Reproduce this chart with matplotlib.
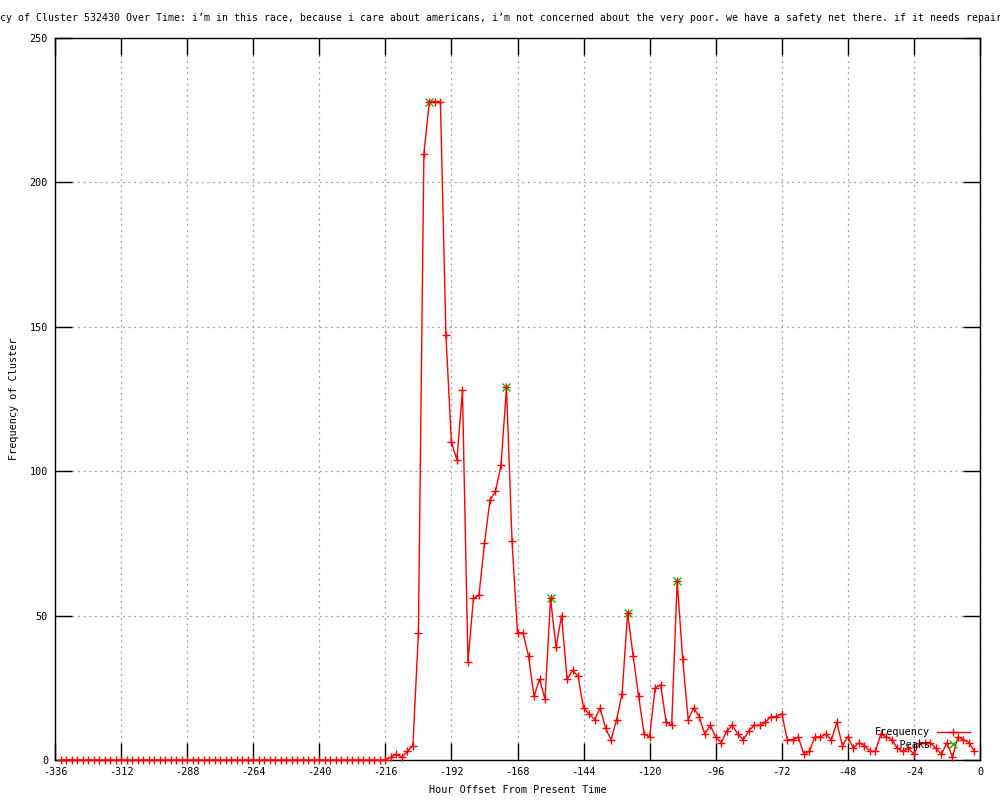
import numpy as np
import matplotlib
matplotlib.use("Agg")
import matplotlib.pyplot as plt

plt.rcParams['font.family'] = ['DejaVu Sans Mono']
plt.rcParams['axes.unicode_minus'] = False

# hours before present, one sample every 2 hours
hours = np.arange(-334, 0, 2)

# frequency per sample
zeros_before = [0] * 60   # -334 .. -216
freq_rest = [
    1, 2, 1, 3, 5, 44, 210, 228, 228, 228,          # -214 .. -196
    147, 110, 104, 128, 34, 56, 57, 75, 90, 93,     # -194 .. -176
    102, 129, 76, 44, 44, 36, 22, 28, 21, 56,       # -174 .. -156
    39, 50, 28, 31, 29, 18, 16, 14, 18, 11,         # -154 .. -136
    7, 14, 23, 51, 36, 22, 9, 8, 25, 26,            # -134 .. -116
    13, 12, 62, 35, 14, 18, 15, 9, 12, 8,           # -114 .. -96
    6, 10, 12, 9, 7, 10, 12, 12, 13, 15,            # -94 .. -76
    15, 16, 7, 7, 8, 2, 3, 8, 8, 9,                 # -74 .. -56
    7, 13, 5, 8, 4, 6, 5, 3, 3, 9,                  # -54 .. -36
    8, 7, 4, 3, 4, 2, 6, 6, 6, 4,                   # -34 .. -16
    2, 6, 1, 8, 7, 6, 3,                            # -14 .. -2
]
freq = np.array(zeros_before + freq_rest)

peak_hours = [-200, -172, -156, -128, -110]
peak_vals = [228, 129, 56, 51, 62]

title = ("Frequency of Cluster 532430 Over Time: i\u2019m in this race, because i care about "
         "americans, i\u2019m not concerned about the very poor. we have a safety net there. "
         "if it needs repair, i\u2019ll fix it.")

fs = 7.25

fig = plt.figure(figsize=(10, 8), dpi=100)
ax = fig.add_axes([0.055, 0.05, 0.925, 0.9025])

ax.plot(peak_hours, peak_vals, linestyle='none', marker='x', color='#00c000',
        markersize=6, markeredgewidth=1, label='Peaks'.rjust(9), clip_on=False, zorder=2)
ax.plot(hours, freq, color='#ff0000', lw=1, marker='+', markersize=6,
        markeredgewidth=1, label='Frequency', clip_on=False, zorder=3)

ax.set_xlim(-336, 0)
ax.set_ylim(0, 250)
ax.set_xticks(np.arange(-336, 1, 24))
ax.set_yticks(np.arange(0, 251, 50))

ax.grid(True, color='#a0a0a0', linestyle=(0, (1.5, 3)), linewidth=0.9)
ax.tick_params(direction='in', length=12, width=1, top=True, right=True,
               labelsize=fs, pad=5)
for s in ax.spines.values():
    s.set_linewidth(1)
    s.set_color('black')

ax.set_xlabel("Hour Offset From Present Time", fontsize=fs, labelpad=6)
ax.set_ylabel("Frequency of Cluster", fontsize=fs, labelpad=8)

# long title, wider than the canvas like the original (cut at both sides)
fig.text(-0.042, 0.978, title, ha='left', va='center', fontsize=7.1)

# legend order: Frequency then Peaks
h, l = ax.get_legend_handles_labels()
leg = ax.legend(h[::-1], l[::-1], loc='upper right', bbox_to_anchor=(0.970, 0.091),
                bbox_transform=fig.transFigure, frameon=False, markerfirst=False,
                fontsize=fs, handlelength=3.3, handletextpad=0.7, borderpad=0,
                borderaxespad=0, labelspacing=0.25)

fig.savefig("out.png", dpi=100)
